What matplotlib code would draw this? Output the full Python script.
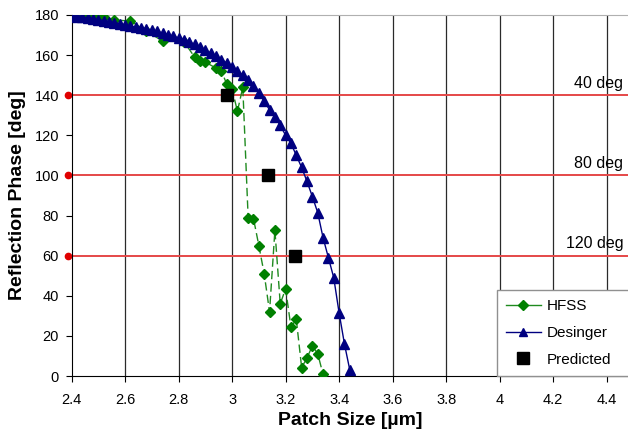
import matplotlib
matplotlib.use('Agg')
import matplotlib.pyplot as plt
from matplotlib.lines import Line2D
from matplotlib.patches import Rectangle
from matplotlib.ticker import FuncFormatter

plt.rcParams['font.family'] = ['Liberation Sans', 'DejaVu Sans']

# HFSS simulation (green diamonds, dashed)
hfss_x = [2.40, 2.42, 2.44, 2.46, 2.48, 2.50, 2.52, 2.56, 2.62, 2.68, 2.74, 2.82,
          2.86, 2.88, 2.90, 2.94, 2.96, 2.98, 3.00, 3.02, 3.04, 3.06, 3.08, 3.10,
          3.12, 3.14, 3.16, 3.18, 3.20, 3.22, 3.24, 3.26, 3.28, 3.30, 3.32, 3.34]
hfss_y = [180.0, 179.8, 179.6, 179.5, 179.5, 179.3, 179.0, 177.5, 177.0, 172.0, 167.0, 166.7,
          159.0, 157.3, 156.5, 153.5, 152.2, 145.5, 143.0, 132.0, 144.0, 79.0, 78.5, 65.0,
          51.0, 32.0, 72.7, 36.0, 43.5, 24.4, 28.3, 4.2, 9.0, 15.0, 11.2, 0.8]

# Designer model (blue triangles)
des_x = [2.40, 2.42, 2.44, 2.46, 2.48, 2.50, 2.52, 2.54, 2.56, 2.58,
         2.60, 2.62, 2.64, 2.66, 2.68, 2.70, 2.72, 2.74, 2.76, 2.78,
         2.80, 2.82, 2.84, 2.86, 2.88, 2.90, 2.92, 2.94, 2.96, 2.98,
         3.00, 3.02, 3.04, 3.06, 3.08, 3.10, 3.12, 3.14, 3.16, 3.18,
         3.20, 3.22, 3.24, 3.26, 3.28, 3.30, 3.32, 3.34, 3.36, 3.38,
         3.40, 3.42, 3.44]
des_y = [179.5, 179.2, 178.9, 178.5, 178.1, 177.7, 177.2, 176.7, 176.2, 175.6,
         175.0, 174.5, 174.0, 173.5, 173.0, 172.5, 171.8, 171.0, 170.2, 169.4,
         168.5, 167.5, 166.5, 165.3, 164.0, 162.6, 161.0, 159.5, 157.8, 156.0,
         154.2, 152.2, 150.0, 147.5, 144.5, 141.0, 137.0, 132.7, 129.3, 125.0,
         120.0, 116.0, 110.0, 104.0, 97.0, 89.5, 81.5, 69.0, 59.0, 49.0,
         31.5, 16.0, 3.0]

# Predicted points (black squares)
pred_x = [2.98, 3.135, 3.235]
pred_y = [140, 100, 60]

# reference phase lines
ref_levels = [140, 100, 60]
ref_labels = ['40 deg', '80 deg', '120 deg']

x_ticks = [2.4, 2.6, 2.8, 3.0, 3.2, 3.4, 3.6, 3.8, 4.0, 4.2, 4.4]
y_ticks = list(range(0, 181, 20))

fig = plt.figure(figsize=(6.28, 4.32), dpi=100)
ax = fig.add_axes([0.114, 0.1296, 0.886, 0.8357])

ax.set_xlim(2.4, 4.48)
ax.set_ylim(0, 180)

# vertical gridlines
for xv in x_ticks[1:]:
    ax.axvline(xv, color='#2a2a2a', lw=0.9, zorder=1)

# red reference lines with dot at the axis
for lvl, lab in zip(ref_levels, ref_labels):
    ax.plot([2.388, 4.48], [lvl, lvl], color='#e54848', lw=1.4, zorder=2,
            marker='o', markevery=[0], markersize=4.5, markerfacecolor='#e00000',
            markeredgecolor='#e00000', clip_on=False)
    ax.text(4.462, lvl + 6, lab, ha='right', va='center', fontsize=11.5, zorder=3)

ax.plot(hfss_x, hfss_y, color='#1f8a1f', lw=1.0, ls=(0, (6, 3)), zorder=4,
        marker='D', markersize=5.5, markerfacecolor='#008000', markeredgecolor='#008000')
ax.plot(des_x, des_y, color='#000080', lw=1.0, zorder=5,
        marker='^', markersize=7.5, markerfacecolor='#000080', markeredgecolor='#000080')
ax.plot(pred_x, pred_y, ls='none', marker='s', markersize=9, color='black', zorder=6)

ax.set_xticks(x_ticks)
ax.set_yticks(y_ticks)
ax.xaxis.set_major_formatter(FuncFormatter(lambda v, p: f'{v:g}'))
ax.tick_params(axis='both', direction='out', length=4, width=0.8, labelsize=10.5, pad=5)
ax.tick_params(axis='x', pad=8)

ax.spines['right'].set_visible(False)
ax.spines['top'].set_color('#b0b0b0')
ax.spines['left'].set_color('black')
ax.spines['bottom'].set_color('black')

ax.set_xlabel('Patch Size [µm]', fontsize=14, fontweight='bold', labelpad=4)
ax.set_ylabel('Reflection Phase [deg]', fontsize=14, fontweight='bold', labelpad=6)

handles = [
    Line2D([], [], color='#1f8a1f', lw=1.0, marker='D', markersize=5,
           markerfacecolor='#008000', markeredgecolor='#008000'),
    Line2D([], [], color='#000080', lw=1.0, marker='^', markersize=6,
           markerfacecolor='#000080', markeredgecolor='#000080'),
    Line2D([], [], ls='none', marker='s', markersize=8, color='black'),
]
leg = fig.legend(handles, ['HFSS', 'Desinger', 'Predicted'], loc='lower left',
                 bbox_to_anchor=(0.791, 0.1296), fontsize=11, frameon=False,
                 borderpad=0.6, labelspacing=0.85, handlelength=2.3,
                 handletextpad=0.35, borderaxespad=0)
leg.set_zorder(10)

# legend frame runs off the right edge, as in the original
fig.canvas.draw()
bb = leg.get_window_extent().transformed(fig.transFigure.inverted())
frame = Rectangle((bb.x0, bb.y0), 1.0 - bb.x0 + 0.02, bb.height,
                  transform=fig.transFigure, facecolor='white', edgecolor='#909090',
                  lw=1.0, zorder=9, clip_on=False)
fig.add_artist(frame)

fig.savefig('out.png', dpi=100)
